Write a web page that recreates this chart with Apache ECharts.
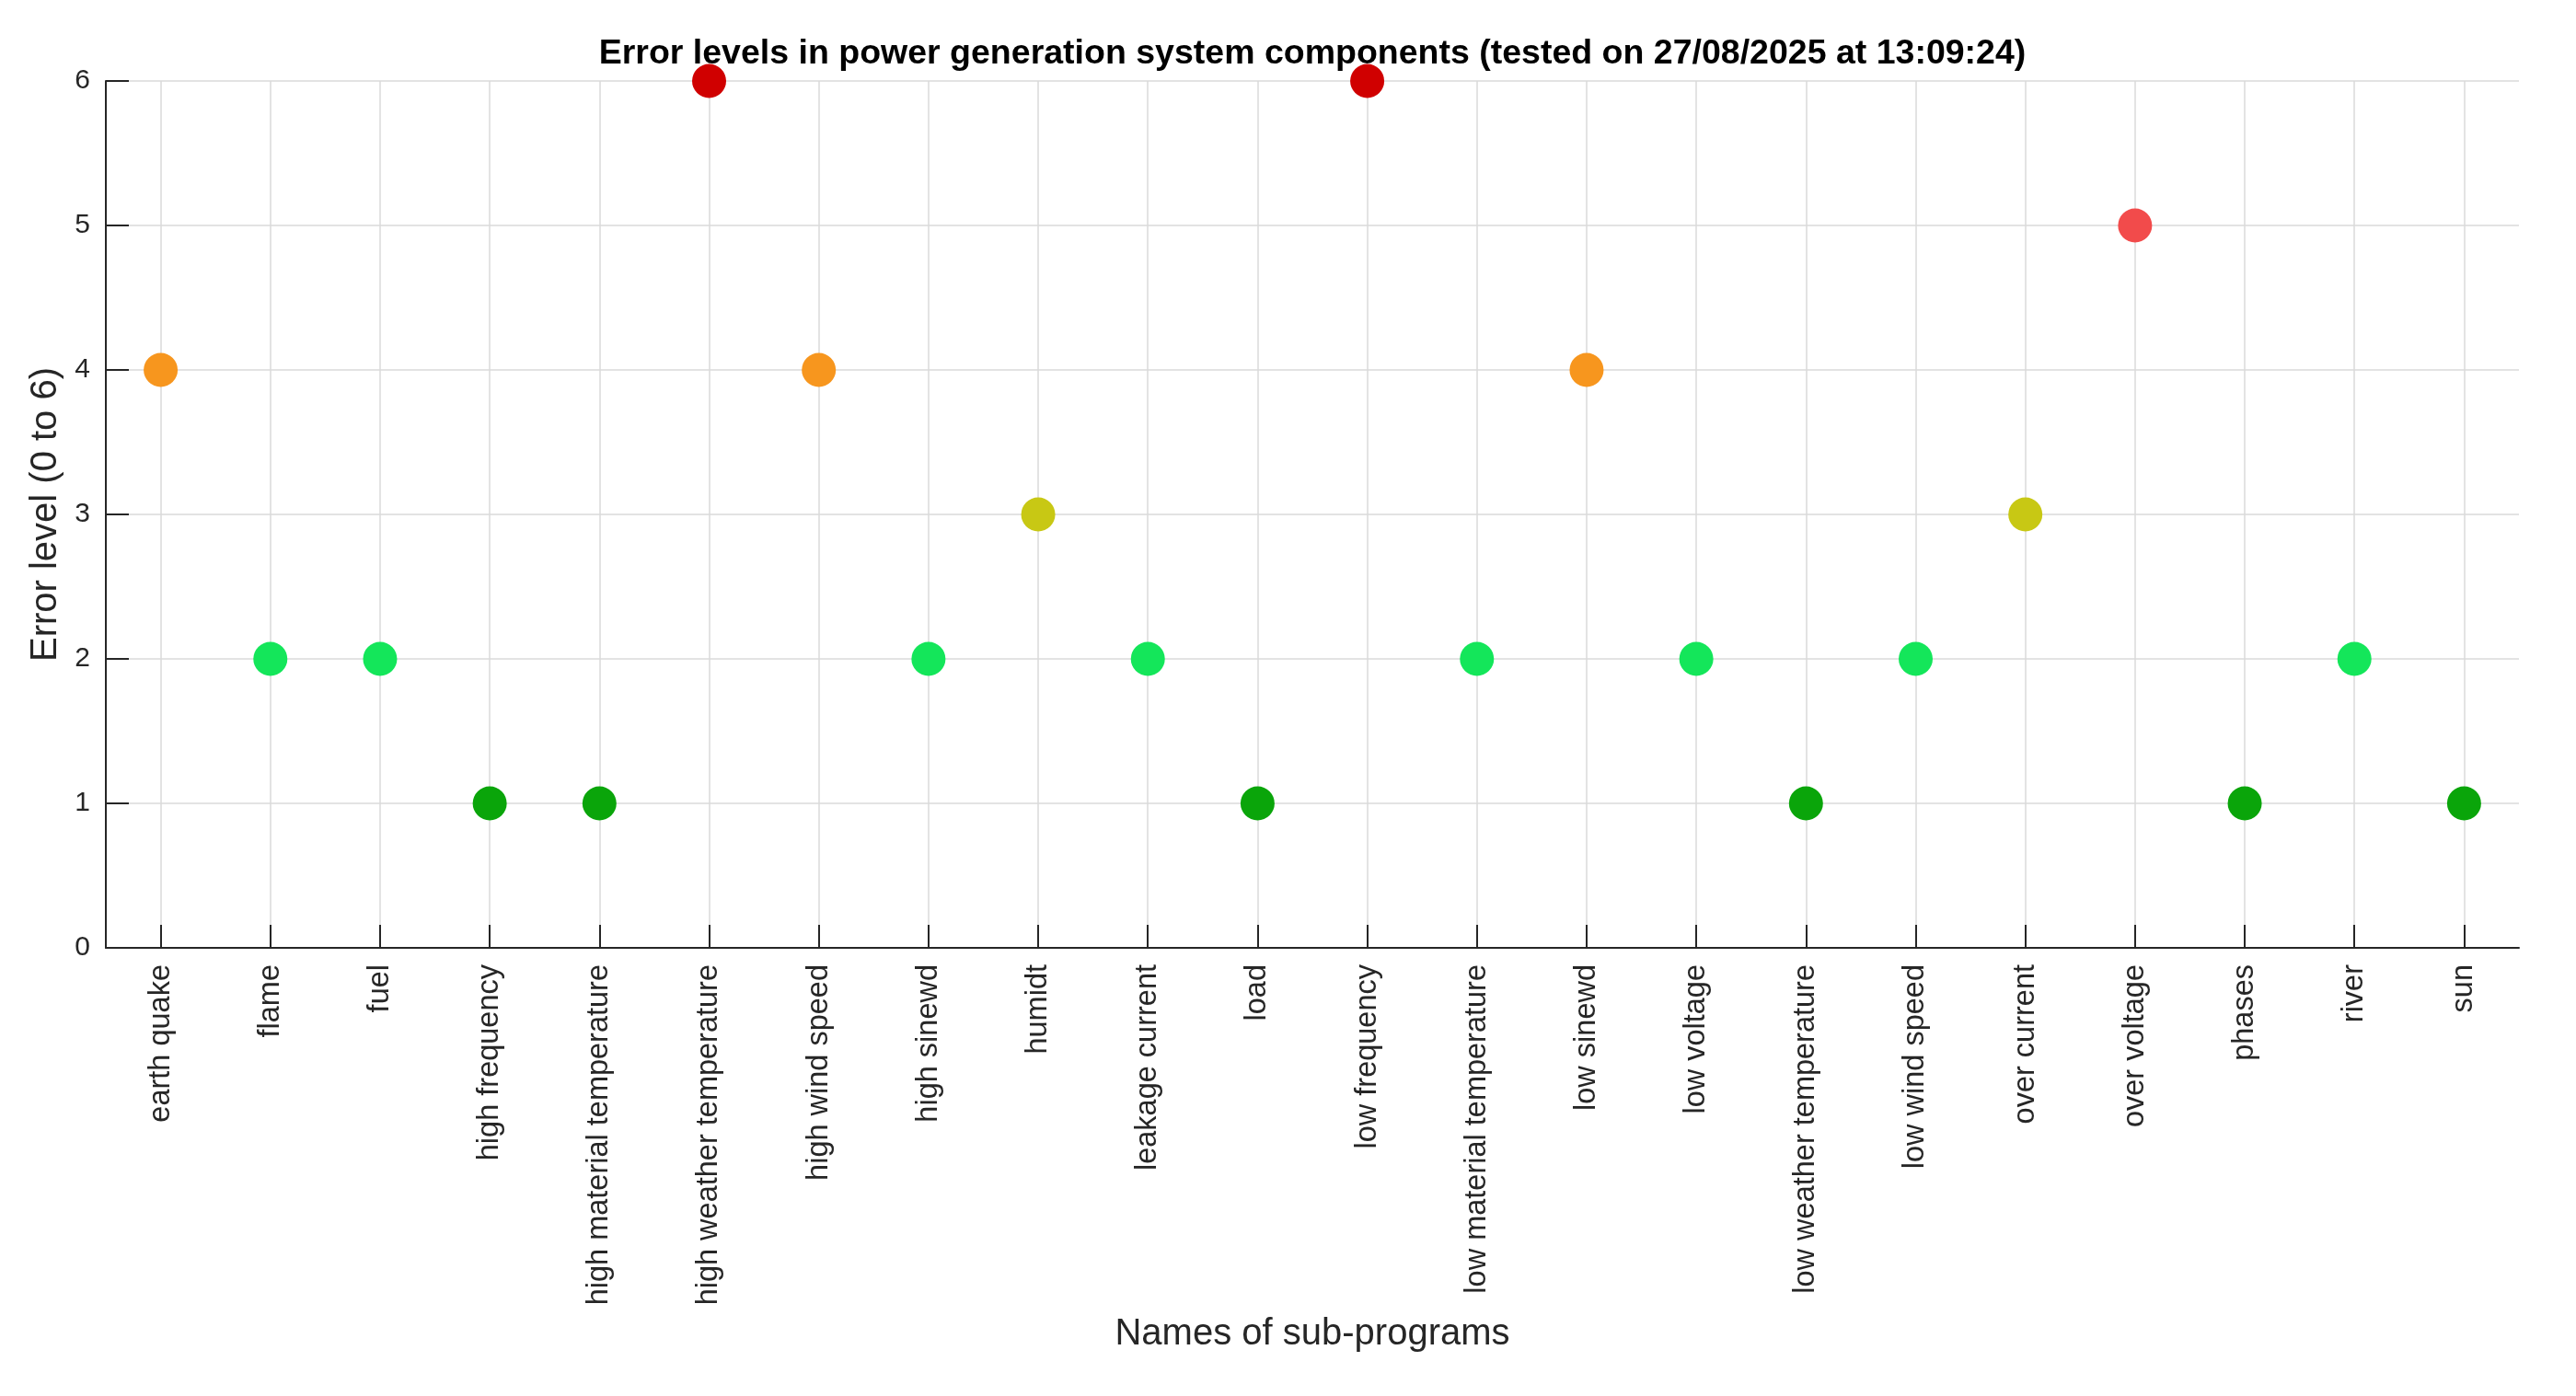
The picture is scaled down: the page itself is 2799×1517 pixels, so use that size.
<!DOCTYPE html>
<html>
<head>
<meta charset="utf-8">
<script src="https://cdn.jsdelivr.net/npm/echarts@6/dist/echarts.min.js"></script>
<style>
  html, body { margin: 0; padding: 0; background: #fff; }
  #chart { width: 2799px; height: 1517px; }
</style>
</head>
<body>
<div id="chart"></div>
<script>
var subPrograms = [
  'earth quake', 'flame', 'fuel', 'high frequency', 'high material temperature',
  'high weather temperature', 'high wind speed', 'high sinewd', 'humidt',
  'leakage current', 'load', 'low frequency', 'low material temperature',
  'low sinewd', 'low voltage', 'low weather temperature', 'low wind speed',
  'over current', 'over voltage', 'phases', 'river', 'sun'
]
var errorLevels = [4, 2, 2, 1, 1, 6, 4, 2, 3, 2, 1, 6, 2, 4, 2, 1, 2, 3, 5, 1, 2, 1]
// colour per error level, index = level
var levelColors = ['#7fd17f', '#0aa50a', '#14e65a', '#c8c814', '#f7961e', '#f24b4b', '#d00000']

var font = '"Liberation Sans", Arial, Helvetica, sans-serif'
var dark = '#262626'

var chart = echarts.init(document.getElementById('chart'))

var points = []
for (var i = 0; i < subPrograms.length; i++) {
  points.push([subPrograms[i], errorLevels[i]])
}

var option = {
  backgroundColor: '#fff',
  animation: false,
  title: {
    text: 'Error levels in power generation system components (tested on 27/08/2025 at 13:09:24)',
    left: 1426,
    top: 40,
    padding: 0,
    textAlign: 'center',
    textStyle: { fontFamily: font, fontSize: 37.5, fontWeight: 'bold', color: '#000' }
  },
  grid: { left: 115, right: 62, top: 88, bottom: 487, containLabel: false },
  xAxis: {
    type: 'category',
    data: subPrograms,
    boundaryGap: true,
    name: 'Names of sub-programs',
    nameLocation: 'middle',
    nameGap: 400,
    nameTextStyle: { fontFamily: font, fontSize: 40, color: dark },
    axisLine: { show: true, onZero: false, lineStyle: { color: dark, width: 2 } },
    axisTick: { show: true, inside: true, length: 25, alignWithLabel: true, interval: 0, lineStyle: { color: dark, width: 2 } },
    axisLabel: { interval: 0, rotate: 90, margin: 18, fontFamily: font, fontSize: 32.5, color: dark },
    splitLine: { show: true, alignWithLabel: true, interval: 0, lineStyle: { color: '#dadada', width: 1.5 } }
  },
  yAxis: {
    type: 'value',
    min: 0,
    max: 6,
    interval: 1,
    name: 'Error level (0 to 6)',
    nameLocation: 'middle',
    nameRotate: 90,
    nameGap: 45,
    nameTextStyle: { fontFamily: font, fontSize: 40, color: dark },
    axisLine: { show: true, lineStyle: { color: dark, width: 2 } },
    axisTick: { show: true, inside: true, length: 25, lineStyle: { color: dark, width: 2 } },
    axisLabel: { margin: 17, fontFamily: font, fontSize: 30, color: dark },
    splitLine: { show: true, lineStyle: { color: '#dadada', width: 1.5 } }
  },
  series: [{
    type: 'scatter',
    data: points,
    symbol: 'circle',
    symbolSize: 37,
    clip: false,
    itemStyle: {
      opacity: 1,
      color: function (p) { return levelColors[p.value[1]] }
    },
    emphasis: { disabled: true }
  }]
}
chart.setOption(option)
</script>
</body>
</html>
